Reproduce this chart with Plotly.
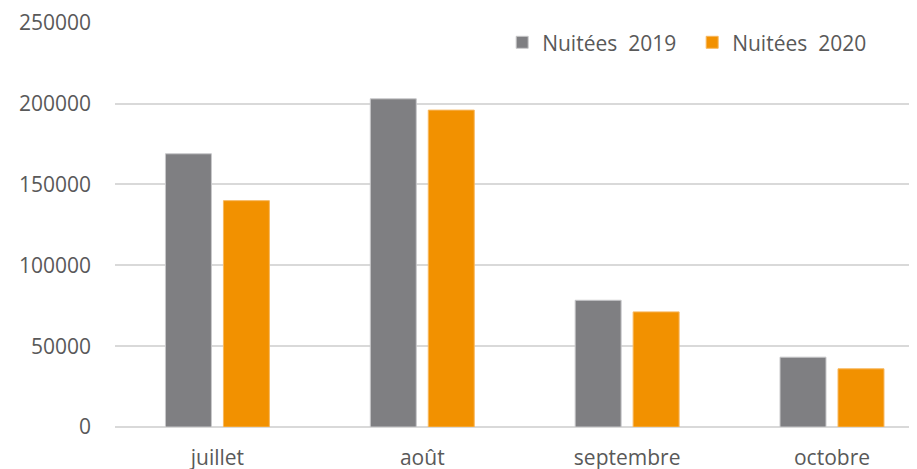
import plotly.graph_objects as go

months = ["juillet", "août", "septembre", "octobre"]
nuitees_2019 = [169000, 203000, 78400, 43200]
nuitees_2020 = [140000, 196000, 71200, 36000]
name_2019 = "Nuitées  2019"
name_2020 = "Nuitées  2020"
y_ticks = [0, 50000, 100000, 150000, 200000, 250000]

GRAY = "#7f7f82"
ORANGE = "#f29100"
TEXT = "#595959"
FONT = "Open Sans"

fig = go.Figure()
fig.add_trace(go.Bar(x=months, y=nuitees_2019, name=name_2019,
                     marker=dict(color=GRAY, line=dict(color="#c8c8ca", width=1))))
fig.add_trace(go.Bar(x=months, y=nuitees_2020, name=name_2020,
                     marker=dict(color=ORANGE, line=dict(color="#f7b860", width=1))))

# page body has an 8px margin; compensate in the figure margins
fig.update_layout(
    width=917, height=469,
    margin=dict(l=106.5, r=0, t=13.5, b=49.7),
    paper_bgcolor="white", plot_bgcolor="white",
    barmode="group", bargap=0.434, bargroupgap=0.207,
    font=dict(family=FONT, size=21, color=TEXT),
    showlegend=True,
    legend=dict(orientation="h", x=0.478, xanchor="left", y=0.949, yanchor="middle",
                font=dict(family=FONT, size=21, color=TEXT), bgcolor="rgba(0,0,0,0)",
                entrywidth=145, entrywidthmode="pixels", traceorder="normal"),
)
fig.update_xaxes(range=[-0.5, 3.454], showgrid=False, showline=False, zeroline=False,
                 ticks="", ticklabelstandoff=16,
                 tickfont=dict(family=FONT, size=21, color=TEXT))
fig.update_yaxes(range=[0, 250500], tickvals=y_ticks, ticktext=[str(v) for v in y_ticks],
                 showgrid=True, gridcolor="#d9d9d9", gridwidth=1.5,
                 zeroline=True, zerolinecolor="#d9d9d9", zerolinewidth=1.5,
                 showline=False, ticks="", ticklabelstandoff=23,
                 tickfont=dict(family=FONT, size=21, color=TEXT))

fig.write_html("out.html")
